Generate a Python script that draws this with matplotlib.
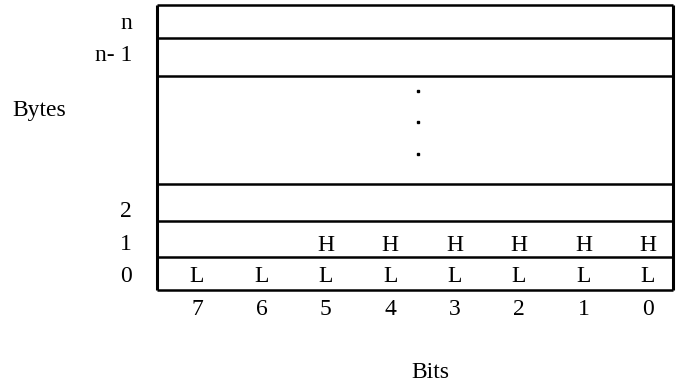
import matplotlib.pyplot as plt

plt.rcParams['font.family'] = ['Liberation Serif', 'DejaVu Serif']

# Rotulos das linhas (bytes) e das colunas (bits)
byte_labels = ['n', 'n- 1', '2', '1', '0']
byte_rows = [(5, 38), (38, 76), (184, 221), (221, 257), (257, 290)]
gap_row = (76, 184)
bit_labels = ['7', '6', '5', '4', '3', '2', '1', '0']
high_bits = ['', '', 'H', 'H', 'H', 'H', 'H', 'H']
low_bits = ['L', 'L', 'L', 'L', 'L', 'L', 'L', 'L']

fig = plt.figure(figsize=(6.81, 3.85), dpi=100)
ax = fig.add_axes([0, 0, 1, 1])
ax.set_xlim(0, 681)
ax.set_ylim(385, 0)
ax.axis('off')

left, right = 157, 673
col0, col_step = 197, 64.4
fs = 17

# Linhas horizontais do quadro
edges = sorted(set([y for r in byte_rows for y in r] + list(gap_row)))
ax.hlines(edges, left, right, color='black', lw=1.8)
ax.vlines(left, edges[0], edges[-1], color='black', lw=2.2)
ax.vlines(right, edges[0], edges[-1], color='black', lw=2.2)

# Rotulos dos bytes (linha de base um pouco acima do fim de cada faixa)
baselines = [29, 61, 217, 250, 282]
for lab, yb in zip(byte_labels, baselines):
    ax.text(132, yb, lab, ha='right', va='baseline', fontsize=fs)
ax.text(12, 116, 'Bytes', ha='left', va='baseline', fontsize=fs)

# Pontinhos no meio
for yd in [91, 122, 154]:
    ax.plot(418, yd, 's', color='black', ms=1.5)

# Letras H e L e numeros dos bits
for i in range(len(bit_labels)):
    x = col0 + i * col_step
    if high_bits[i]:
        ax.text(x, 251, high_bits[i], ha='center', va='baseline', fontsize=fs)
    ax.text(x, 282, low_bits[i], ha='center', va='baseline', fontsize=fs)
    ax.text(x, 315, bit_labels[i], ha='center', va='baseline', fontsize=fs)

ax.text(430, 378, 'Bits', ha='center', va='baseline', fontsize=fs)

fig.savefig('out.png', dpi=100)
